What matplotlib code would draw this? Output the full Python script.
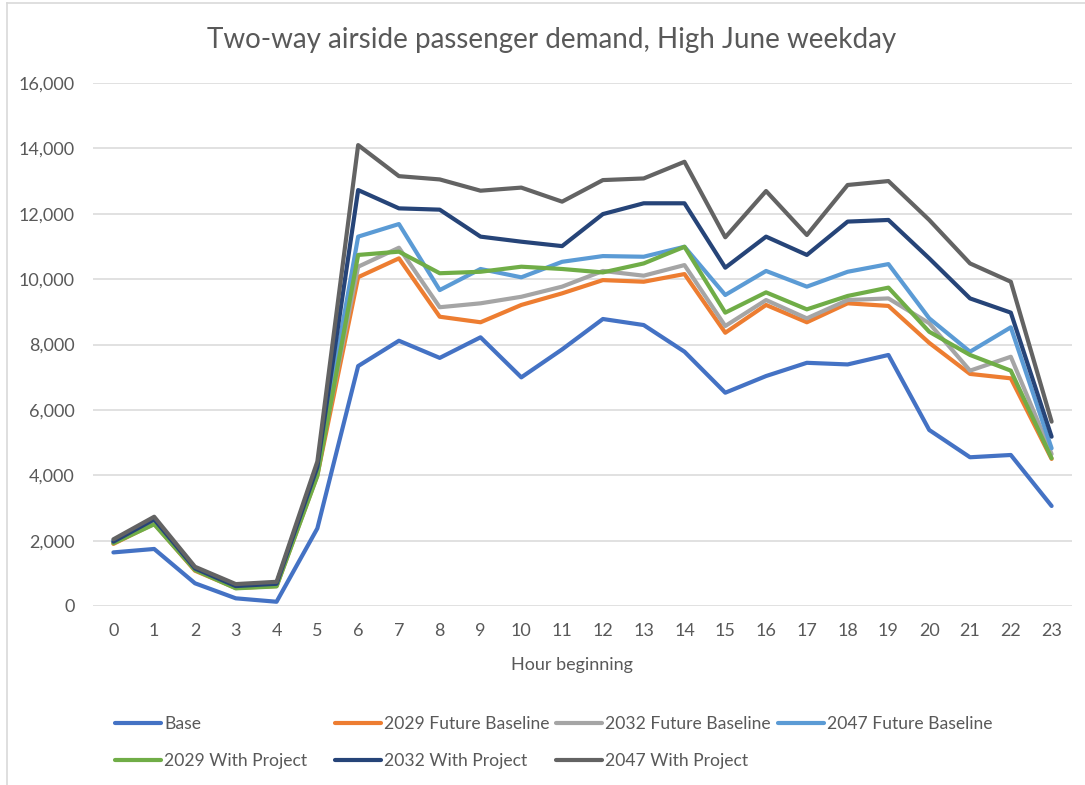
#%% IMPORT
import matplotlib
matplotlib.use("Agg")
import matplotlib.pyplot as plt
from matplotlib.lines import Line2D
from matplotlib.ticker import FuncFormatter

#%% DADOS
hours = list(range(24))

base = [1640, 1745, 695, 235, 130, 2375, 7340, 8115, 7590, 8220, 6995, 7850,
        8780, 8595, 7780, 6525, 7035, 7440, 7390, 7680, 5385, 4550, 4620, 3060]
fb_2029 = [1900, 2520, 1080, 550, 610, 4000, 10060, 10635, 8850, 8680, 9210, 9565,
           9970, 9920, 10155, 8360, 9210, 8680, 9260, 9180, 8050, 7100, 6965, 4500]
fb_2032 = [1950, 2600, 1120, 590, 650, 4150, 10380, 10960, 9140, 9260, 9460, 9770,
           10250, 10105, 10430, 8565, 9360, 8800, 9360, 9410, 8650, 7200, 7625, 4650]
fb_2047 = [2000, 2680, 1160, 630, 700, 4300, 11300, 11685, 9665, 10310, 10055, 10530,
           10705, 10685, 10990, 9515, 10250, 9770, 10225, 10460, 8800, 7780, 8525, 4825]
wp_2029 = [1920, 2500, 1100, 540, 600, 3980, 10740, 10840, 10180, 10225, 10380, 10310,
           10205, 10480, 10990, 8975, 9595, 9075, 9485, 9740, 8390, 7680, 7200, 4520]
wp_2032 = [1970, 2650, 1150, 610, 680, 4250, 12725, 12165, 12125, 11300, 11145, 11010,
           11990, 12320, 12320, 10350, 11300, 10740, 11760, 11810, 10635, 9410, 8975, 5180]
wp_2047 = [2040, 2730, 1200, 670, 740, 4420, 14100, 13150, 13050, 12705, 12800, 12370,
           13030, 13080, 13590, 11280, 12695, 11350, 12880, 13000, 11810, 10480, 9920, 5640]

labels = ["Base", "2029 Future Baseline", "2032 Future Baseline", "2047 Future Baseline",
          "2029 With Project", "2032 With Project", "2047 With Project"]
series = [base, fb_2029, fb_2032, fb_2047, wp_2029, wp_2032, wp_2047]
colors = ["#4472C4", "#ED7D31", "#A5A5A5", "#5B9BD5", "#70AD47", "#264478", "#636363"]

#%% ESTILO
plt.rcParams['font.family'] = ['Lato', 'DejaVu Sans']
cinza = "#595959"
grade = "#D9D9D9"
W, H = 1085, 785

#%% GRÁFICO
fig = plt.figure(figsize=(W / 100, H / 100), dpi=100)
ax = fig.add_axes([93 / W, 1 - 606 / H, (1072 - 93) / W, (606 - 83) / H])

linhas = []
for y, lab, c in zip(series, labels, colors):
    l, = ax.plot(hours, y, color=c, lw=3.0, label=lab,
                 solid_joinstyle='round', solid_capstyle='round')
    linhas.append(l)

ax.set_xlim(-0.5, 23.5)
ax.set_ylim(0, 16000)
ax.set_xticks(hours)
ax.set_yticks(range(0, 16001, 2000))
ax.yaxis.set_major_formatter(FuncFormatter(lambda v, p: f"{int(v):,}"))
ax.tick_params(axis='both', length=0, labelsize=13, labelcolor=cinza)
ax.tick_params(axis='x', pad=12)
ax.tick_params(axis='y', pad=13)
ax.grid(axis='y', color=grade, lw=1.1)
ax.set_axisbelow(True)
for s in ax.spines.values():
    s.set_visible(False)

# título e rótulo do eixo
fig.text(552 / W, 1 - 40 / H, "Two-way airside passenger demand, High June weekday",
         ha='center', va='center', fontsize=20, color=cinza)
fig.text(572 / W, 1 - 665 / H, "Hour beginning", ha='center', va='center',
         fontsize=13, color=cinza)

# legenda: colunas fixas como no Excel
colunas = [(115, [0, 4]), (335, [1, 5]), (556, [2, 6]), (778, [3])]
for x0, idx in colunas:
    leg = fig.legend([linhas[i] for i in idx], [labels[i] for i in idx],
                     loc='upper left', bbox_to_anchor=(x0 / W, 1 - 716 / H),
                     frameon=False, fontsize=12.6, handlelength=2.6,
                     handletextpad=0.22, labelspacing=1.2, borderpad=0,
                     borderaxespad=0, labelcolor=cinza)
    for h in leg.legend_handles:
        h.set_linewidth(3.0)

# moldura da área do gráfico
fig.add_artist(Line2D([7 / W, 7 / W], [0, 1 - 3 / H], color=grade, lw=1.2))
fig.add_artist(Line2D([7 / W, 1], [1 - 3 / H, 1 - 3 / H], color=grade, lw=1.2))

plt.savefig("out.png", dpi=100)
